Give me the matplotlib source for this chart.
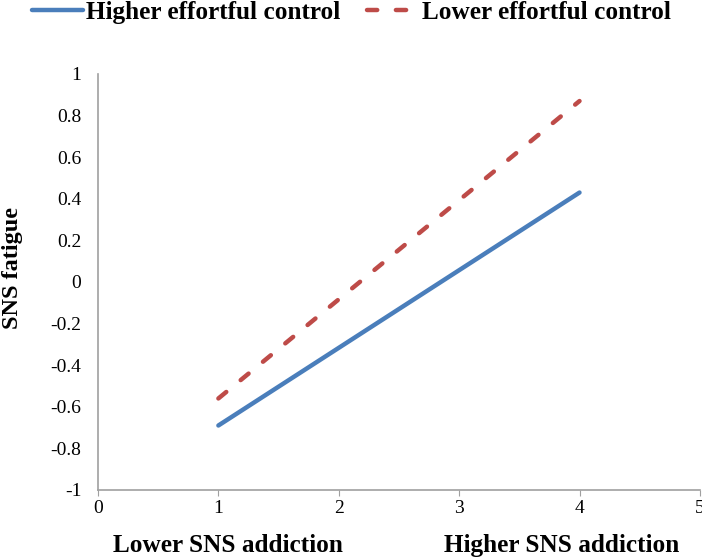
import matplotlib.pyplot as plt

# Simple slopes data
x_vals = [1, 4]
higher_ec = [-0.69, 0.43]
lower_ec = [-0.56, 0.87]
x_ticks = [0, 1, 2, 3, 4, 5]
y_ticks = [-1, -0.8, -0.6, -0.4, -0.2, 0, 0.2, 0.4, 0.6, 0.8, 1]

plt.rcParams['font.family'] = ['Liberation Serif', 'DejaVu Serif']

fig = plt.figure(figsize=(7.02, 5.58), dpi=100)
ax = fig.add_axes([0.1396, 0.1219, 0.8574, 0.7455])

ax.plot(x_vals, higher_ec, color='#4a7ebb', lw=3.2, solid_capstyle='round',
        label='Higher effortful control')
ax.plot(x_vals, lower_ec, color='#be4b48', lw=3.2, ls=(0, (2.3, 4.2)),
        dash_capstyle='round', label='Lower effortful control')

ax.set_xlim(0, 5)
ax.set_ylim(-1, 1)
ax.set_xticks(x_ticks)
ax.set_yticks(y_ticks)
ax.set_yticklabels([f'{v:g}' for v in y_ticks])
ax.tick_params(axis='x', direction='out', length=4, color='#a0a0a0', labelsize=14, pad=3.5)
ax.tick_params(axis='y', length=0, labelsize=14, pad=12)

for s in ['top', 'right']:
    ax.spines[s].set_visible(False)
for s in ['left', 'bottom']:
    ax.spines[s].set_color('#a0a0a0')
    ax.spines[s].set_linewidth(1.2)

fig.text(0.0185, 0.5197, 'SNS fatigue', fontsize=17.5, fontweight='bold',
         rotation=90, ha='center', va='center')

fig.text(0.324, 0.0108, 'Lower SNS addiction', fontsize=18.2, fontweight='bold',
         ha='center', va='baseline')
fig.text(0.8006, 0.0108, 'Higher SNS addiction', fontsize=18.2, fontweight='bold',
         ha='center', va='baseline')

fig.legend(loc='upper left', bbox_to_anchor=(0.0456, 0.999), ncol=2, frameon=False,
           prop={'size': 18.2, 'weight': 'bold'}, handlelength=2.0, columnspacing=1.05,
           handletextpad=0.15, borderpad=0, borderaxespad=0)

fig.savefig('out.png', dpi=100)
